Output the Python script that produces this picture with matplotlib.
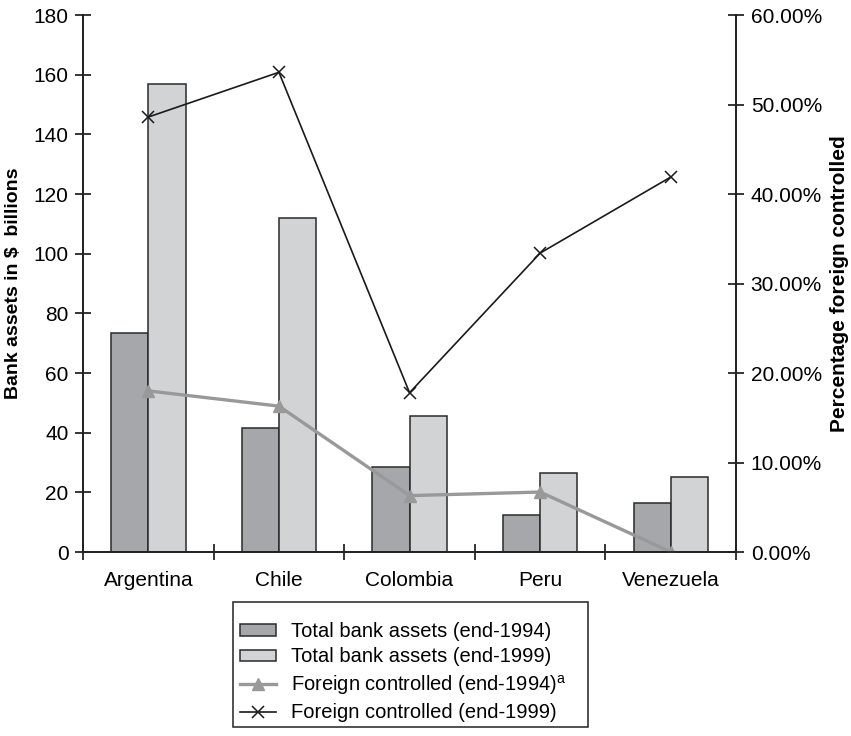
import matplotlib
matplotlib.use("Agg")
import matplotlib.pyplot as plt
import numpy as np
from matplotlib.ticker import FuncFormatter, MultipleLocator
from matplotlib.patches import Rectangle

plt.rcParams['font.family'] = ['Liberation Sans', 'DejaVu Sans']
plt.rcParams['mathtext.fontset'] = 'custom'
plt.rcParams['mathtext.rm'] = 'Liberation Sans'

countries = ["Argentina", "Chile", "Colombia", "Peru", "Venezuela"]
assets_1994 = [73.5, 41.5, 28.5, 12.5, 16.5]
assets_1999 = [157, 112, 45.5, 26.5, 25]
foreign_1994 = [18.0, 16.3, 6.3, 6.7, 0.0]
foreign_1999 = [48.6, 53.6, 17.8, 33.4, 41.9]

W, H = 851, 736
fig = plt.figure(figsize=(W / 100, H / 100), dpi=100)
ax = fig.add_axes([0.0975, 0.25, 0.7675, 0.7296])
ax2 = ax.twinx()

x = np.arange(len(countries))
w = 0.285
dark = "#a6a7aa"
light = "#d2d3d5"
ax.bar(x - w/2, assets_1994, w, color=dark, edgecolor="#2a2a2a", linewidth=1.1,
       label="Total bank assets (end-1994)", zorder=2)
ax.bar(x + w/2, assets_1999, w, color=light, edgecolor="#2a2a2a", linewidth=1.1,
       label="Total bank assets (end-1999)", zorder=2)

l1, = ax2.plot(x, foreign_1994, color="#999999", lw=2.4, marker="^", markersize=9,
               label=r"Foreign controlled (end-1994)$^{\mathrm{a}}$")
l2, = ax2.plot(x, foreign_1999, color="#1a1a1a", lw=1.2, marker="x", markersize=9,
               markeredgewidth=1.1, label="Foreign controlled (end-1999)")

ax.set_xlim(-0.5, 4.5)
ax.set_ylim(0, 180)
ax2.set_ylim(0, 60)
ax.yaxis.set_major_locator(MultipleLocator(20))
ax2.yaxis.set_major_locator(MultipleLocator(10))
ax2.yaxis.set_major_formatter(FuncFormatter(lambda v, p: f"{v:.2f}%"))

ax.set_xticks(x)
ax.set_xticklabels(countries)
ax.set_xticks(np.arange(-0.5, 5.0, 1.0), minor=True)
ax.tick_params(axis='x', which='major', length=0, pad=14, labelsize=15)
ax.tick_params(axis='x', which='minor', direction='inout', length=12, width=1.1)
ax.tick_params(axis='y', direction='inout', length=11, width=1.1, labelsize=15, pad=5)
ax2.tick_params(axis='y', direction='inout', length=11, width=1.1, labelsize=15, pad=5)

for a in (ax, ax2):
    a.spines['top'].set_visible(False)
    for s in ('left', 'right', 'bottom'):
        a.spines[s].set_linewidth(1.3)
        a.spines[s].set_color("#222222")

ax.set_ylabel("Bank assets in $  billions", fontsize=14, fontweight='bold', labelpad=8)
ax2.set_ylabel("Percentage foreign controlled", fontsize=15, fontweight='bold', labelpad=6)

# legend frame drawn as a plain rectangle
fig.patches.append(Rectangle((233 / W, 1 - 727 / H), (588 - 233) / W, (727 - 602) / H,
                             transform=fig.transFigure, fill=False,
                             edgecolor="#222222", linewidth=1.1))

handles = ax.get_legend_handles_labels()[0] + [l1, l2]
labels = [h.get_label() for h in handles]
leg = fig.legend(handles, labels, loc='upper left', bbox_to_anchor=(240 / W, 1 - 622 / H),
                 frameon=False, fontsize=14.5, handlelength=1.8,
                 handleheight=0.5, borderpad=0, labelspacing=0.32,
                 handletextpad=0.75, borderaxespad=0)

fig.savefig("out.png", dpi=100)
